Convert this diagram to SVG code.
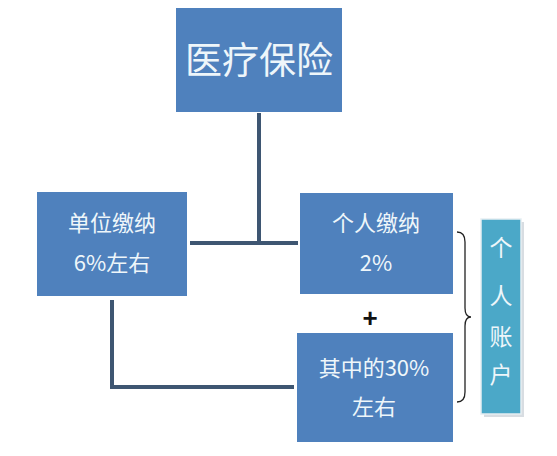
<svg xmlns="http://www.w3.org/2000/svg" width="557" height="456" viewBox="0 0 557 456">
<defs>
<style>
.box{fill:#4F81BD;}
.t{fill:#EEF6FA;font-family:"Noto Sans CJK SC","Noto Sans",sans-serif;text-anchor:middle;}
.ln{stroke:#3E5672;stroke-width:4;fill:none;}
</style>
</defs>
<rect width="557" height="456" fill="#ffffff"/>
<g id="connectors">
<line class="ln" x1="259" y1="113" x2="259" y2="243"/>
<line class="ln" x1="190" y1="243" x2="298" y2="243"/>
<polyline class="ln" points="112,300 112,387 294,387"/>
</g>
<g id="node-top">
<rect class="box" x="176" y="8" width="166" height="104"/>
<text class="t" x="259" y="74" font-size="37">医疗保险</text>
</g>
<g id="node-unit">
<rect class="box" x="37" y="192" width="150" height="104"/>
<text class="t" x="112" y="231" font-size="22">单位缴纳</text>
<text class="t" x="112" y="271" font-size="22">6%左右</text>
</g>
<g id="node-personal">
<rect class="box" x="300" y="193" width="153" height="101"/>
<text class="t" x="376" y="231" font-size="22">个人缴纳</text>
<text class="t" x="376" y="271" font-size="22">2%</text>
</g>
<g id="plus">
<text x="370" y="327" font-size="26" font-weight="bold" fill="#111111" font-family="'Liberation Sans',sans-serif" text-anchor="middle">+</text>
</g>
<g id="node-share">
<rect class="box" x="297" y="333" width="156" height="109"/>
<text class="t" x="374" y="376" font-size="22">其中的30%</text>
<text class="t" x="374" y="415" font-size="22">左右</text>
</g>
<g id="brace">
<path d="M457,232 Q465,232 465,242 L465,308 Q465,317 471,317 Q465,317 465,326 L465,392 Q465,402 457,402" fill="none" stroke="#222222" stroke-width="1.3"/>
</g>
<g id="node-account">
<rect x="484" y="222" width="40" height="195" fill="#D8DDE2"/>
<rect x="481" y="219" width="40" height="195" fill="#4BA8C8" stroke="#E6EEF2" stroke-width="1.5"/>
<text class="t" x="501" y="256" font-size="23">个</text>
<text class="t" x="501" y="304" font-size="23">人</text>
<text class="t" x="501" y="345" font-size="23">账</text>
<text class="t" x="501" y="383" font-size="23">户</text>
</g>
</svg>
